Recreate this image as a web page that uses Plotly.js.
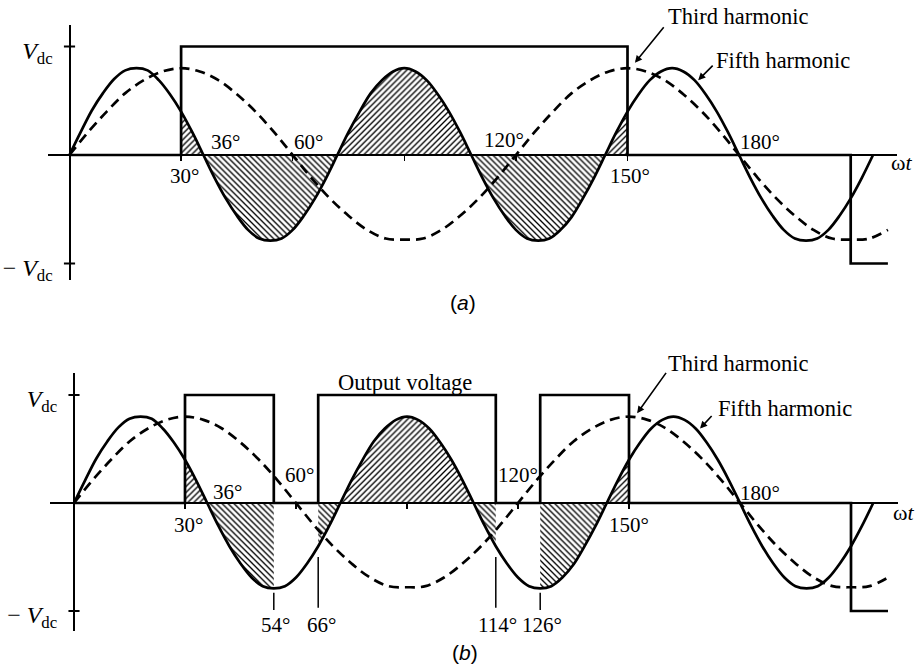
<!DOCTYPE html>
<html>
<head>
<meta charset="utf-8">
<script src="https://cdn.plot.ly/plotly-3.0.1.min.js"></script>
<style>
  html, body { margin: 0; padding: 0; background: #fff; }
  #chart { width: 916px; height: 667px; }
</style>
</head>
<body>
<div id="chart"></div>
<script>
// ---- Waveform data (per-unit of Vdc, angle in degrees) ----
const fifthDeg = [0,3,6,9,12,15,18,21,24,27,30,33,36,39,42,45,48,51,54,57,60,63,66,69,72,
  75,78,81,84,87,90,93,96,99,102,105,108,111,114,117,120,123,126,129,132,135,138,141,144,
  147,150,153,156,159,162,165,168,171,174,177,180,183,186,189,192,195,198,201,204,207,210,213,216];
const fifthVal = [0,0.21,0.41,0.57,0.70,0.78,0.80,0.78,0.69,0.56,0.40,0.21,0,-0.21,-0.40,-0.56,-0.69,-0.77,-0.79,-0.77,-0.69,-0.56,-0.40,-0.21,0,
  0.21,0.40,0.57,0.69,0.77,0.80,0.77,0.69,0.56,0.40,0.21,0,-0.21,-0.40,-0.56,-0.69,-0.77,-0.79,-0.77,-0.69,-0.57,-0.40,-0.21,0,
  0.21,0.40,0.56,0.69,0.77,0.80,0.77,0.69,0.56,0.40,0.21,0,-0.21,-0.40,-0.56,-0.69,-0.77,-0.79,-0.77,-0.69,-0.56,-0.40,-0.21,0];

const thirdDeg = [0,5,10,15,20,25,30,35,40,45,50,55,60,65,70,75,80,85,90,95,100,105,110,115,120,
  125,130,135,140,145,150,155,160,165,170,175,180,185,190,195,200,205,210,215,220];
const thirdVal = [0,0.21,0.40,0.57,0.69,0.77,0.80,0.77,0.69,0.56,0.40,0.21,0,-0.21,-0.40,-0.56,-0.69,-0.77,-0.78,-0.77,-0.69,-0.56,-0.40,-0.21,0,
  0.21,0.40,0.57,0.69,0.77,0.80,0.77,0.69,0.56,0.40,0.21,0,-0.21,-0.40,-0.56,-0.69,-0.77,-0.78,-0.77,-0.69];

// Output voltage switching angles and levels
const outDegA = [0, 30, 150, 210, 220];
const outLvlA = [0, 1, 0, -1, -1];
const outDegB = [0, 30, 54, 66, 114, 126, 150, 210, 220];
const outLvlB = [0, 1, 0, 1, 0, 1, 0, -1, -1];

// Dimension lines under the notches of (b)
const guideDeg = [54, 66, 114, 126];
const guideTop = [-0.83, -0.50, -0.50, -0.83];
const guideBot = [-0.99, -0.97, -0.97, -0.99];

// Axis marks
const vdcLevels = [-1, 1];
const vdcText = ['\u2212 <i>V</i><sub>dc</sub>', '<i>V</i><sub>dc</sub>'];
const xTickDeg = [30, 60, 90, 120, 150];

const degLabelsA = [30, 36, 60, 120, 150, 180];
const degLabelsB = [30, 36, 60, 54, 66, 114, 126, 120, 150, 180];

// ---- Page geometry ----
const W = 916, H = 667;
const geomA = { ox: 69.5, oy: 155, dx: 3.72, dy: 108.5, x0: 48, x1: 897, y0: 25, y1: 280 };
const geomB = { ox: 74,   oy: 503, dx: 3.70, dy: 108,   x0: 50, x1: 898, y0: 373, y1: 631 };

const SERIF = 'Liberation Serif, Times New Roman, serif';
const SANS = 'Liberation Sans, Arial, sans-serif';

function xAxisFor(g) {
  return {
    domain: [g.x0 / W, g.x1 / W],
    range: [(g.x0 - g.ox) / g.dx, (g.x1 - g.ox) / g.dx],
    anchor: 'free', position: 1 - g.oy / H,
    showline: true, linewidth: 2.2, linecolor: '#000',
    showgrid: false, zeroline: false,
    ticks: 'outside', ticklen: 5, tickwidth: 1.5, tickcolor: '#000',
    tickmode: 'array', tickvals: xTickDeg, showticklabels: false,
    fixedrange: true
  };
}
function yAxisFor(g) {
  return {
    domain: [1 - g.y1 / H, 1 - g.y0 / H],
    range: [(g.oy - g.y1) / g.dy, (g.oy - g.y0) / g.dy],
    anchor: 'free', position: g.ox / W,
    showline: true, linewidth: 2.2, linecolor: '#000',
    showgrid: false, zeroline: false,
    ticks: '', tickmode: 'array', tickvals: vdcLevels, ticktext: vdcText,
    tickfont: { family: SERIF, size: 24, color: '#000' },
    ticklabelstandoff: 11, ticklabelshift: 4,
    fixedrange: true
  };
}

// Split the conducting intervals at the fifth-harmonic zero crossings
const zeroDeg = fifthDeg.filter((d, i) => fifthVal[i] === 0);
function hatchTraces(outDeg, outLvl, xa, ya) {
  const traces = [];
  for (let i = 0; i < outDeg.length - 1; i++) {
    if (outLvl[i] !== 1) continue;
    const a = outDeg[i], b = outDeg[i + 1];
    const cuts = [a, ...zeroDeg.filter(z => z > a && z < b), b];
    for (let k = 0; k < cuts.length - 1; k++) {
      const p = cuts[k], q = cuts[k + 1];
      const xs = [], ys = [];
      fifthDeg.forEach((d, j) => { if (d >= p && d <= q) { xs.push(d); ys.push(fifthVal[j]); } });
      const mid = ys.reduce((s, v) => s + v, 0);
      traces.push({
        type: 'scatter', mode: 'lines', x: xs, y: ys, xaxis: xa, yaxis: ya,
        line: { width: 0, shape: 'spline' },
        fill: 'tozeroy', fillcolor: 'rgba(0,0,0,0)',
        fillpattern: { shape: mid >= 0 ? '/' : '\\', size: 4.2, solidity: 0.32,
                       fgcolor: '#000', bgcolor: 'rgba(255,255,255,0)', fillmode: 'replace' },
        hoverinfo: 'skip', showlegend: false
      });
    }
  }
  return traces;
}

function waveTraces(outDeg, outLvl, xa, ya) {
  return [
    { type: 'scatter', mode: 'lines', x: thirdDeg, y: thirdVal, xaxis: xa, yaxis: ya,
      line: { color: '#000', width: 2.7, dash: '10px,6px', shape: 'spline' },
      hoverinfo: 'skip', showlegend: false, name: 'Third harmonic' },
    { type: 'scatter', mode: 'lines', x: fifthDeg, y: fifthVal, xaxis: xa, yaxis: ya,
      line: { color: '#000', width: 2.7, shape: 'spline' },
      hoverinfo: 'skip', showlegend: false, name: 'Fifth harmonic' },
    { type: 'scatter', mode: 'lines', x: outDeg, y: outLvl, xaxis: xa, yaxis: ya,
      line: { color: '#000', width: 2.7, shape: 'hv' },
      hoverinfo: 'skip', showlegend: false, name: 'Output voltage' }
  ];
}

const guideX = [], guideY = [];
guideDeg.forEach((d, i) => { guideX.push(d, d, null); guideY.push(guideTop[i], guideBot[i], null); });

const data = [
  ...hatchTraces(outDegA, outLvlA, 'x', 'y'),
  ...waveTraces(outDegA, outLvlA, 'x', 'y'),
  ...hatchTraces(outDegB, outLvlB, 'x2', 'y2'),
  ...waveTraces(outDegB, outLvlB, 'x2', 'y2'),
  { type: 'scatter', mode: 'lines', x: guideX, y: guideY, xaxis: 'x2', yaxis: 'y2',
    line: { color: '#000', width: 1.5 }, hoverinfo: 'skip', showlegend: false }
];

// Cross ticks at +/- Vdc on the vertical axes
const shapes = [];
[['x', 'y'], ['x2', 'y2']].forEach(([xr, yr]) => {
  vdcLevels.forEach(v => shapes.push({
    type: 'line', xref: xr, yref: yr, x0: -1.5, x1: 1.5, y0: v, y1: v,
    line: { color: '#000', width: 2 }
  }));
});

// ---- Text ----
const ann = [];
function paperText(text, px, py, size, family) {
  ann.push({ text, xref: 'paper', yref: 'paper', x: px / W, y: 1 - py / H,
    xanchor: 'center', yanchor: 'middle', showarrow: false,
    font: { family: family || SERIF, size: size || 22.5, color: '#000' } });
}
function degText(deg, xr, yr, dxp, dyp) {
  ann.push({ text: deg + '\u00b0', xref: xr, yref: yr, x: deg, y: 0,
    xshift: dxp, yshift: dyp, xanchor: 'center', yanchor: 'middle', showarrow: false,
    font: { family: SERIF, size: 21, color: '#000' } });
}
function arrow(xr, yr, x, y, ax, ay) {
  ann.push({ text: '', xref: xr, yref: yr, x, y, ax, ay, showarrow: true,
    arrowhead: 2, arrowsize: 0.9, arrowwidth: 1.6, arrowcolor: '#000', standoff: 0 });
}

// panel (a)
const offA = { 30: [3, -21], 36: [22, 13], 60: [16, 13], 120: [-12, 15], 150: [2, -21], 180: [21, 13] };
degLabelsA.forEach(d => degText(d, 'x', 'y', offA[d][0], offA[d][1]));
paperText('Third harmonic', 738, 17);
paperText('Fifth harmonic', 783, 60);
paperText('\u03c9<i>t</i>', 901, 162, 22);
paperText('(<i>a</i>)', 463, 302, 21, SANS);
arrow('x', 'y', 152, 0.85, 30, -37);
arrow('x', 'y', 169, 0.69, 16, -16);

// panel (b)
const offB = { 30: [3, -22], 36: [20, 11], 60: [3, 28], 54: [2, -122], 66: [3, -122],
               114: [2, -122], 126: [2, -122], 120: [0, 28], 150: [0, -22], 180: [20, 10] };
degLabelsB.forEach(d => degText(d, 'x2', 'y2', offB[d][0], offB[d][1]));
paperText('Output voltage', 405, 382);
paperText('Third harmonic', 738, 363);
paperText('Fifth harmonic', 785, 408);
paperText('\u03c9<i>t</i>', 903, 512, 22);
paperText('(<i>b</i>)', 465, 652, 21, SANS);
arrow('x2', 'y2', 152.2, 0.83, 30, -42);
arrow('x2', 'y2', 169.2, 0.69, 13, -14);

const layout = {
  width: W, height: H,
  margin: { l: 0, r: 0, t: 0, b: 0, pad: 0 },
  paper_bgcolor: '#fff', plot_bgcolor: 'rgba(0,0,0,0)',
  showlegend: false,
  xaxis: xAxisFor(geomA), yaxis: yAxisFor(geomA),
  xaxis2: xAxisFor(geomB), yaxis2: yAxisFor(geomB),
  shapes, annotations: ann
};

Plotly.newPlot('chart', data, layout, { staticPlot: true, displayModeBar: false });
</script>
</body>
</html>
